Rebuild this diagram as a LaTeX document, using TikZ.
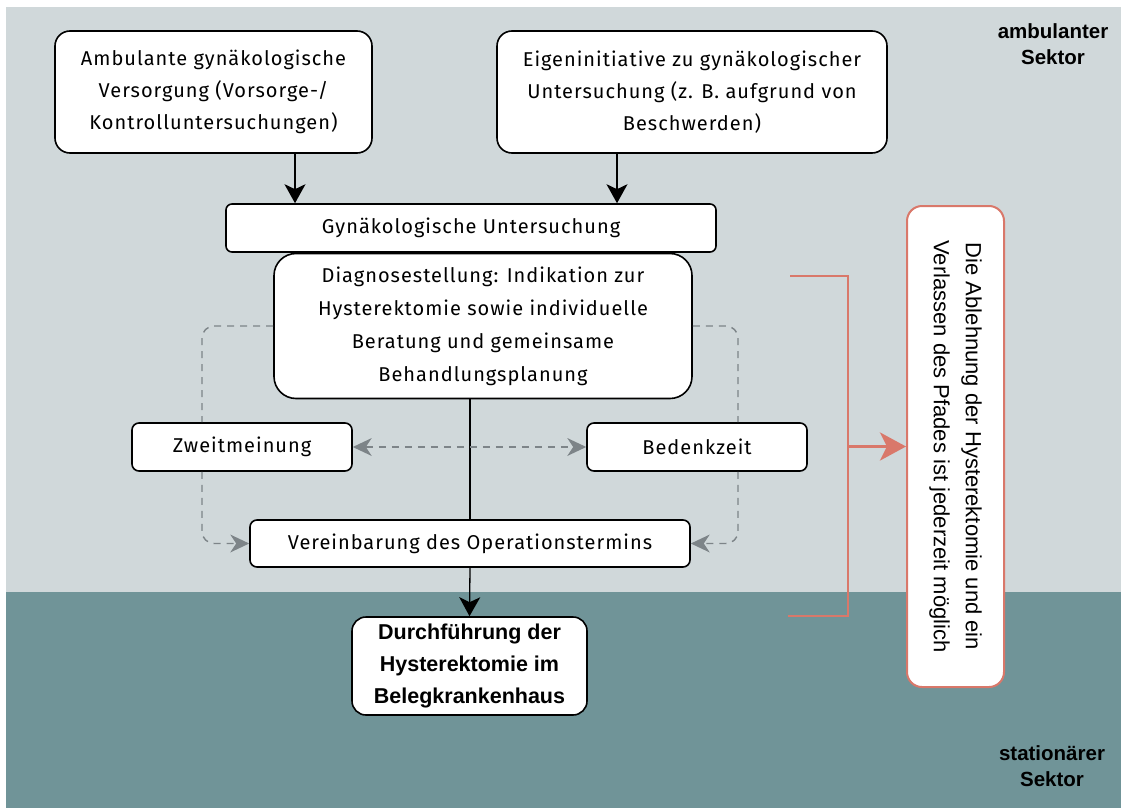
\documentclass[tikz,border=0pt]{standalone}
\usepackage{fontspec}
\setmainfont{Fira Sans}[LetterSpace=5]
\newfontfamily\lsans{Liberation Sans}
\usetikzlibrary{arrows.meta}
\definecolor{bgtop}{HTML}{D0D8DA}
\definecolor{bgbot}{HTML}{709498}
\definecolor{dashgray}{HTML}{7D8488}
\definecolor{pinkline}{HTML}{D9786A}
\begin{document}
\begin{tikzpicture}[x=1pt,y=-1pt,
  box/.style={draw=black, line width=1.6pt, fill=white, inner sep=0pt, align=center,
    font=\fontsize{20}{32}\selectfont},
  arr/.style={line width=1.3pt, -{Stealth[length=19pt,width=21pt,inset=5pt]}},
  dsh/.style={draw=dashgray, line width=1.4pt, dash pattern=on 7pt off 6pt, rounded corners=12pt},
  gtip/.tip={Stealth[length=19pt,width=18pt,inset=6pt,fill=dashgray,line width=0pt]},
  sector/.style={font=\lsans\bfseries\fontsize{20.5}{26}\selectfont, align=center}
]
\useasboundingbox (0,0) rectangle (1121,808);
\fill[white] (0,0) rectangle (1121,808);
\fill[bgtop] (6,7) rectangle (1121,592);
\fill[bgbot] (6,592) rectangle (1121,808);

\node[sector] (amb) at (1053,44) {ambulanter\\Sektor};
\node[sector] (stat) at (1052,766) {stationärer\\Sektor};

\node[box, rounded corners=15pt, minimum width=317pt, minimum height=122pt] (A) at (213.5,92)
  {Ambulante gynäkologische\\Versorgung (Vorsorge-/\\Kontrolluntersuchungen)};
\node[box, rounded corners=15pt, minimum width=390pt, minimum height=122pt] (B) at (692,92)
  {Eigeninitiative zu gynäkologischer\\Untersuchung (z. B. aufgrund von\\Beschwerden)};
\node[box, rounded corners=6pt, minimum width=490pt, minimum height=48pt] (G) at (471,228)
  {Gynäkologische Untersuchung};
\node[box, rounded corners=22pt, minimum width=418pt, minimum height=145pt, font=\fontsize{20}{33}\selectfont] (D) at (483,326)
  {Diagnosestellung: Indikation zur\\Hysterektomie sowie individuelle\\Beratung und gemeinsame\\Behandlungsplanung};
\node[box, rounded corners=7pt, minimum width=220pt, minimum height=48pt] (Z) at (242,447) {Zweitmeinung};
\node[box, rounded corners=7pt, minimum width=220pt, minimum height=48pt] (Bz) at (697,447) {Bedenkzeit};
\node[box, rounded corners=7pt, minimum width=440pt, minimum height=47pt] (V) at (470,543.5) {Vereinbarung des Operationstermins};
\node[box, rounded corners=14pt, minimum width=235pt, minimum height=98pt,
  font=\lsans\bfseries\fontsize{21.5}{32}\selectfont] (Du) at (469.5,666)
  {Durchführung der\\Hysterektomie im\\Belegkrankenhaus};

\node[draw=pinkline, line width=2pt, fill=white, rounded corners=15pt, rotate=-90,
  minimum width=481pt, minimum height=97pt, inner sep=0pt, align=center,
  font=\lsans\fontsize{22}{32}\selectfont] (R) at (955.5,446.5)
  {Die Ablehnung der Hysterektomie und ein\\Verlassen des Pfades ist jederzeit möglich};

% solid connectors
\draw[arr] ([xshift=81.5pt]A.south) -- ([xshift=81.5pt]A.south |- G.north);
\draw[arr] ([xshift=-75pt]B.south) -- ([xshift=-75pt]B.south |- G.north);
\draw[line width=1.3pt] (V.north |- D.south) -- (V.north);
\draw[arr] (V.south) -- (Du.north);

% dashed connectors
\draw[dsh] (D.west) -| ([xshift=-40pt]Z.north);
\draw[dsh] (D.east) -| ([xshift=41pt]Bz.north);
\draw[dsh, -gtip] ([xshift=-40pt]Z.south) |- (V.west);
\draw[dsh, -gtip] ([xshift=41pt]Bz.south) |- (V.east);
\draw[dsh, gtip-gtip] (Z.east) -- (Bz.west);

% bracket
\coordinate (bt) at (790,276);
\coordinate (bb) at (788,616);
\coordinate (bm) at (848,446.5);
\draw[pinkline, line width=1.5pt] (bt) -| (bm |- bb) -- (bb);
\draw[pinkline, line width=3.5pt, -{Stealth[length=26pt,width=28pt,inset=7pt]}] (bm) -- (R.south);
\end{tikzpicture}
\end{document}
